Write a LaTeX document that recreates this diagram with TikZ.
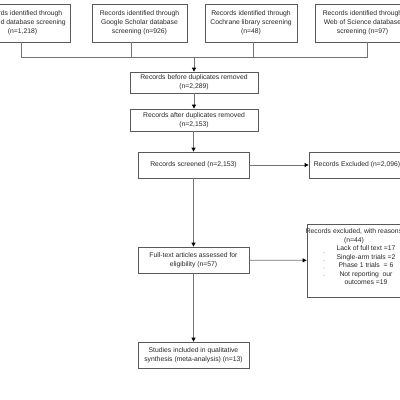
\documentclass[tikz,border=0pt]{standalone}
\usepackage{fontspec}
\setmainfont{Liberation Sans}
\usetikzlibrary{arrows.meta}
\begin{document}
\begin{tikzpicture}[x=1pt,y=-1pt,
  box/.style={draw=black!65, line width=0.8pt, rectangle, inner sep=1pt,
    align=center, font=\fontsize{6.8}{8.8}\selectfont, text=black!85},
  txt/.style={inner sep=0pt, align=center, font=\fontsize{6.8}{8.5}\selectfont, text=black!85},
  conn/.style={draw=black!55, line width=0.8pt},
  arr/.style={conn, -{Triangle[length=4pt,width=4pt,black]}},
  dotmark/.style={circle, fill=black!30, inner sep=0pt, minimum size=1.2pt}]
\useasboundingbox (0,0) rectangle (400,400);
\clip (0,0) rectangle (400,400);
% top sources
\node[box, minimum width=95pt, minimum height=38pt] (s1) at (22.5,23) {Records identified through\\PubMed database screening\\(n=1,218)};
\node[box, minimum width=95pt, minimum height=38pt] (s2) at (139.5,23) {Records identified through\\Google Scholar database\\screening (n=926)};
\node[box, minimum width=92pt, minimum height=38pt] (s3) at (251,23) {Records identified through\\Cochrane library screening\\(n=48)};
\node[box, minimum width=95pt, minimum height=38pt] (s4) at (362.5,23) {Records identified through\\Web of Science database\\screening (n=97)};
% main column
\node[box, minimum width=128pt, minimum height=21pt] (before) at (194,82.5) {Records before duplicates removed\\(n=2,289)};
\node[box, minimum width=128pt, minimum height=22pt] (after) at (194,120) {Records after duplicates removed\\(n=2,153)};
\node[box, minimum width=111pt, minimum height=26pt] (screen) at (193.5,165) {Records screened (n=2,153)};
\node[box, minimum width=96pt, minimum height=26pt] (excl) at (357,165) {Records Excluded (n=2,096)};
\node[box, minimum width=111pt, minimum height=26pt] (full) at (193.5,260) {Full-text articles assessed for\\eligibility (n=57)};
\node[box, minimum width=94pt, minimum height=73pt] (reas) at (354,260.5) {};
\node[txt] (reashead) at (354,236) {Records excluded, with reasons\\(n=44)};
\node[txt] (reaslist) at (366,265.5) {Lack of full text =17\\Single-arm trials =2\\Phase 1 trials \ = 6\\Not reporting \ our\\outcomes =19};
\node[dotmark] (d1) at (324,252.5) {};
\node[dotmark] (d2) at (324,260.5) {};
\node[dotmark] (d3) at (324,268) {};
\node[dotmark] (d4) at (324,275.5) {};
\node[box, minimum width=111pt, minimum height=26pt] (incl) at (193.5,355) {Studies included in qualitative\\synthesis (meta-analysis) (n=13)};
% connectors
\coordinate (j1) at (21,57);
\coordinate (j2) at (131,57);
\coordinate (j3) at (253,57);
\coordinate (j4) at (367,57);
\coordinate (jm) at (194,57);
\draw[conn] (s1.south -| j1) -- (j1) -- (j4) -- (s4.south -| j4);
\draw[conn] (s2.south -| j2) -- (j2);
\draw[conn] (s3.south -| j3) -- (j3);
\draw[arr] (jm) -- (before.north);
\draw[arr] (before) -- (after);
\draw[arr] (after.south -| screen.north) -- (screen.north);
\draw[arr] (screen) -- (excl);
\draw[arr] (screen) -- (full);
\draw[arr] (full) -- (reas);
\draw[arr] (full) -- (incl);
\end{tikzpicture}
\end{document}
